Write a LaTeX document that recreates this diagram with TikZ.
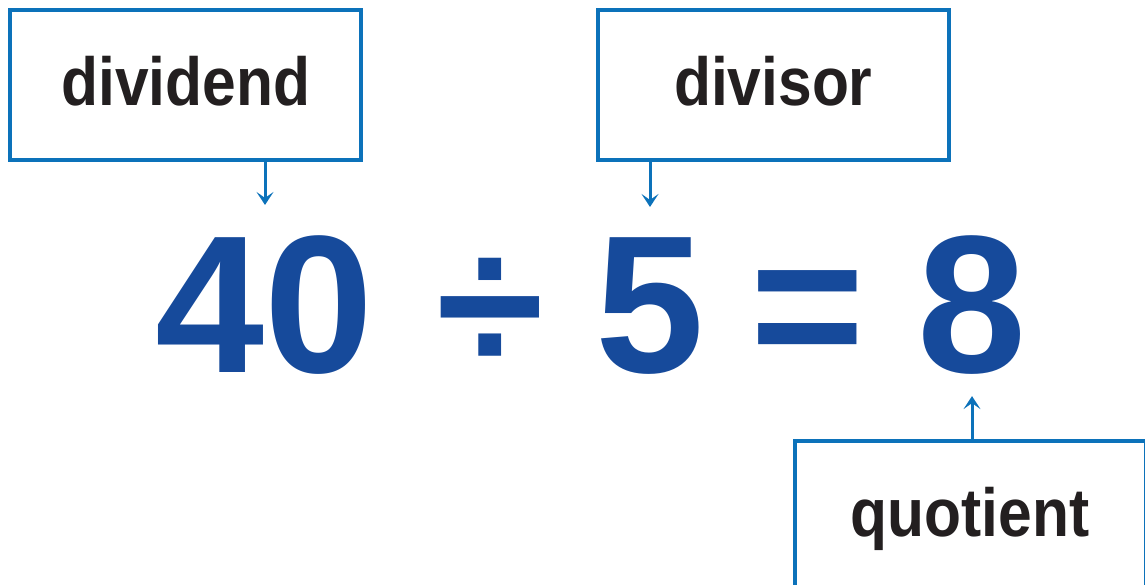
\documentclass[tikz,border=0pt]{standalone}
\usepackage{fontspec}
\setmainfont{Liberation Sans}
\newfontfamily\labelfont{Liberation Sans}[FakeStretch=0.89]
\usetikzlibrary{arrows.meta}
\definecolor{boxblue}{RGB}{12,114,186}
\definecolor{numblue}{RGB}{22,74,155}
\definecolor{inkblack}{RGB}{35,31,32}

\begin{document}
\begin{tikzpicture}[x=1pt, y=-1pt,
    labelbox/.style={draw=boxblue, line width=4pt, minimum width=351pt, minimum height=150pt,
      inner sep=0pt, text height=40pt, text depth=0pt, text=inkblack,
      font=\labelfont\bfseries\fontsize{68}{70}\selectfont},
    numtext/.style={anchor=base, inner sep=0pt, text=numblue,
      font=\bfseries\fontsize{196}{200}\selectfont},
    pointer/.style={draw=boxblue, line width=3pt, shorten >=30pt,
      -{Stealth[length=13pt, width=17pt, inset=6pt]}}]
        \clip (0,0) rectangle (1145,585);

        % Label boxes
        \node[labelbox] (dividendbox) at (185.7,85.5) {dividend};
        \node[labelbox] (divisorbox)  at (773.3,85.5) {divisor};
        \node[labelbox] (quotientbox) at (970,516)    {quotient};

        % The sum
        \node[numtext] (dvd)     at (265,372) {40};
        \node[numtext] (divsign) at (490,372) {÷};
        \node[numtext] (dvs)     at (650,372) {5};
        \node[numtext] (eqsign)  at (808,372) {=};
        \node[numtext] (quo)     at (972,372) {8};

        % Pointers
        \draw[pointer] (dvd.north |- dividendbox.south) -- (dvd.north);
        \draw[pointer] (dvs.north |- divisorbox.south) -- (dvs.north);
        \draw[pointer, shorten >=22pt] (quo.south |- quotientbox.north) -- (quo.south);
    \end{tikzpicture}
\end{document}
